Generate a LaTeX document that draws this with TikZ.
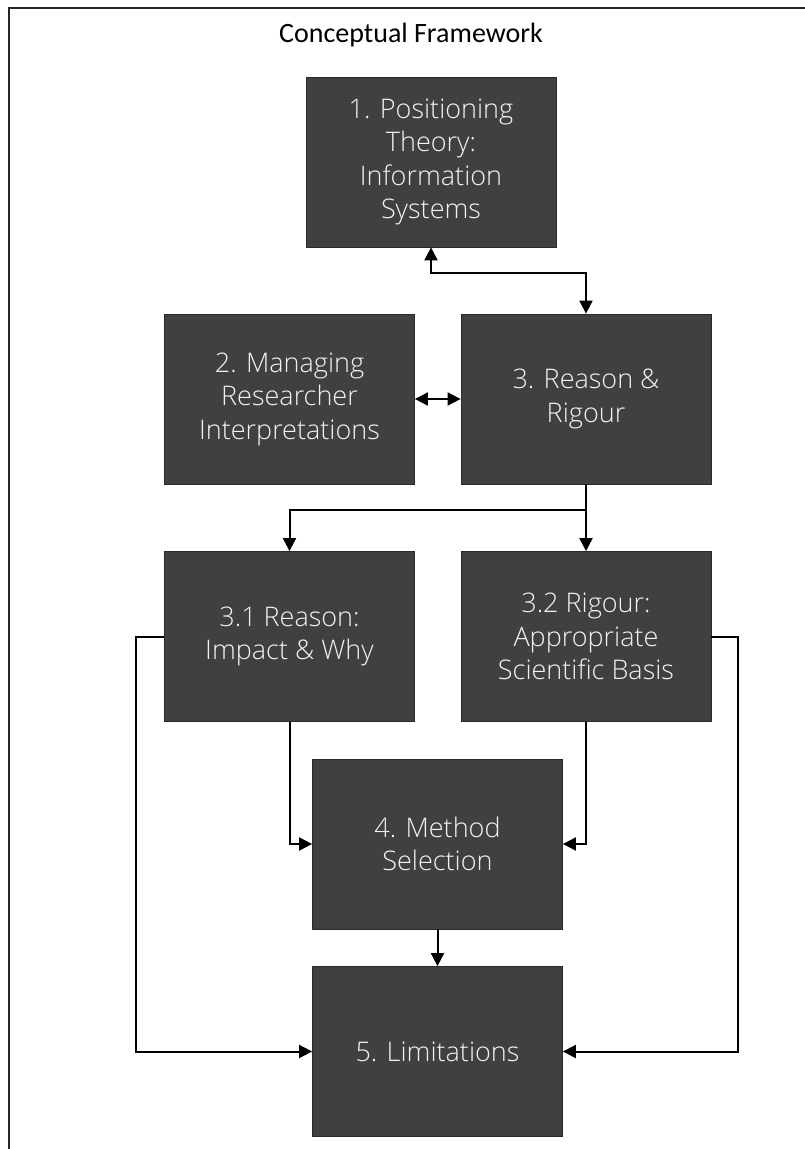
\documentclass[tikz,border=0pt]{standalone}
\usepackage{fontspec}
\usetikzlibrary{arrows.meta}
\setmainfont{Carlito}
\IfFontExistsTF{Open Sans Light}
  {\newfontfamily\boxfont{Open Sans Light}}
  {\IfFontExistsTF{Lato Light}
     {\newfontfamily\boxfont{Lato Light}}
     {\newfontfamily\boxfont{Open Sans}}}
\definecolor{boxfill}{HTML}{404040}
\definecolor{boxedge}{HTML}{2A2A2A}
\definecolor{boxtext}{HTML}{F2F2F2}
\begin{document}
\begin{tikzpicture}[x=1pt,y=-1pt,
  stage/.style={draw=boxedge, line width=0.8pt, fill=boxfill, text=boxtext,
    minimum width=250pt, minimum height=170pt, inner sep=0pt,
    align=center, font=\boxfont\fontsize{27}{33.5}\selectfont},
  conn/.style={draw=black, line width=2pt,
    >={Triangle[length=13pt,width=13pt]}},
  frameline/.style={draw=black!85, line width=2pt}]
\useasboundingbox (0,0) rectangle (805,1149);

% page frame (top and left edges)
\draw[frameline] (805,8) -- (9,8) -- (9,1149);

\node (title) at (411,35) {\fontsize{28}{34}\selectfont Conceptual Framework};

% stages
\node[stage] (n1)  at (431,162)    {1. Positioning\\Theory:\\Information\\Systems};
\node[stage] (n2)  at (289.5,399)  {2. Managing\\Researcher\\Interpretations};
\node[stage] (n3)  at (586,399)    {3. Reason \&\\Rigour};
\node[stage] (n31) at (289.5,636.5){3.1 Reason:\\Impact \& Why};
\node[stage] (n32) at (586,636.5)  {3.2 Rigour:\\Appropriate\\Scientific Basis};
\node[stage] (n4)  at (437.5,844)  {4. Method\\Selection};
\node[stage] (n5)  at (437.5,1051.5){5. Limitations};

% connectors
\draw[conn,<->] (n1.south) -- ++(0,25.5) -| (n3.north);
\draw[conn,<->] (n2.east) -- (n3.west);
\coordinate (split) at (586,510);
\draw[conn,->] (n3.south) -- (n32.north);
\draw[conn,->] (split) -| (n31.north);
\draw[conn,->] (n31.south) |- (n4.west);
\draw[conn,->] (n32.south) |- (n4.east);
\draw[conn,->] (n4.south) -- (n5.north);
\draw[conn,->] (n31.west) -- ++(-28,0) |- (n5.west);
\draw[conn,->] (n32.east) -- ++(27,0) |- (n5.east);
\end{tikzpicture}
\end{document}
